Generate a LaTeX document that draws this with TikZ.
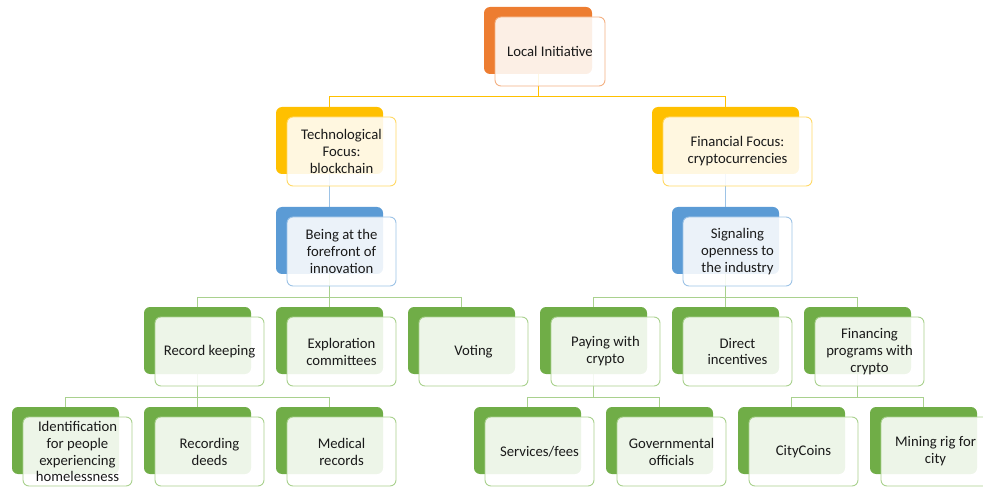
\documentclass[tikz,border=0pt]{standalone}
\usepackage{fontspec}
\setmainfont{Carlito}
\pgfdeclarelayer{background}
\pgfsetlayers{background,main}
\definecolor{orgB}{HTML}{ED7D31}\definecolor{orgF}{HTML}{F4B183}
\definecolor{yelB}{HTML}{FFC000}\definecolor{yelF}{HTML}{FFD966}
\definecolor{bluB}{HTML}{5B9BD5}\definecolor{bluF}{HTML}{9DC3E6}
\definecolor{grnB}{HTML}{70AD47}\definecolor{grnF}{HTML}{A9D18E}
\definecolor{txt}{HTML}{1A1A1A}
\tikzset{
  backbox/.style={rectangle, rounded corners=6pt, fill=#1B, draw=none, inner sep=0pt, outer sep=0pt, minimum height=67pt},
  frontbox/.style={rectangle, rounded corners=6pt, fill=white, fill opacity=0.88, text opacity=1, draw=#1F, line width=0.9pt,
    inner sep=0pt, outer sep=0pt, minimum height=69pt, align=center, text=txt, font=\fontsize{14.7}{16.9}\selectfont},
  conn/.style={draw=#1, line width=1pt},
}
% #1 name, #2 back left, #3 back top, #4 back width, #5 colour, #6 text
\newcommand\smbox[6]{%
  \node[backbox=#5, minimum width=#4pt] (#1b) at ({#2+#4/2},{#3+33.5}) {};
  \node[frontbox=#5, minimum width={#4pt+2pt}] (#1) at ({#2+11+(#4+2)/2},{#3+10+34.5}) {#6};
}
\begin{document}
\begin{tikzpicture}[x=1pt,y=-1pt]
\useasboundingbox (0,0) rectangle (983,489);
\smbox{loc}{484}{7}{108}{org}{Local Initiative}
\smbox{tech}{276}{107}{107}{yel}{Technological\\Focus:\\blockchain}
\smbox{fin}{652}{107}{147}{yel}{Financial Focus:\\cryptocurrencies}
\smbox{being}{276}{207}{107}{blu}{Being at the\\forefront of\\innovation}
\smbox{sig}{672}{207}{107}{blu}{Signaling\\openness to\\the industry}
\smbox{rec}{144}{307}{107}{grn}{Record keeping}
\smbox{expl}{276}{307}{107}{grn}{Exploration\\committees}
\smbox{vot}{408}{307}{107}{grn}{Voting}
\smbox{pay}{540}{307}{107}{grn}{Paying with\\crypto}
\smbox{dir}{672}{307}{107}{grn}{Direct\\incentives}
\smbox{finp}{804}{307}{107}{grn}{Financing\\programs with\\crypto}
\smbox{ident}{12}{407}{107}{grn}{Identification\\for people\\experiencing\\homelessness}
\smbox{deeds}{144}{407}{107}{grn}{Recording\\deeds}
\smbox{med}{276}{407}{107}{grn}{Medical\\records}
\smbox{serv}{474}{407}{107}{grn}{Services/fees}
\smbox{gov}{606}{407}{107}{grn}{Governmental\\officials}
\smbox{city}{738}{407}{107}{grn}{CityCoins}
\smbox{mine}{870}{407}{107}{grn}{Mining rig for\\city}
\begin{pgfonlayer}{background}
\draw[conn=yelB] (locb.south) -- ++(0,23) -| (techb.north);
\draw[conn=yelB] (locb.south) -- ++(0,23) -| (finb.north);
\draw[conn=bluF] (techb.south) -- (beingb.north);
\draw[conn=bluF] (finb.south) -- (sigb.north);
\foreach \c in {rec,expl,vot}{\draw[conn=grnF] (beingb.south) -- ++(0,23) -| (\c b.north);}
\foreach \c in {pay,dir,finp}{\draw[conn=grnF] (sigb.south) -- ++(0,23) -| (\c b.north);}
\foreach \c in {ident,deeds,med}{\draw[conn=grnF] (recb.south) -- ++(0,23) -| (\c b.north);}
\foreach \c in {serv,gov}{\draw[conn=grnF] (payb.south) -- ++(0,23) -| (\c b.north);}
\foreach \c in {city,mine}{\draw[conn=grnF] (finpb.south) -- ++(0,23) -| (\c b.north);}
\end{pgfonlayer}
\end{tikzpicture}
\end{document}
